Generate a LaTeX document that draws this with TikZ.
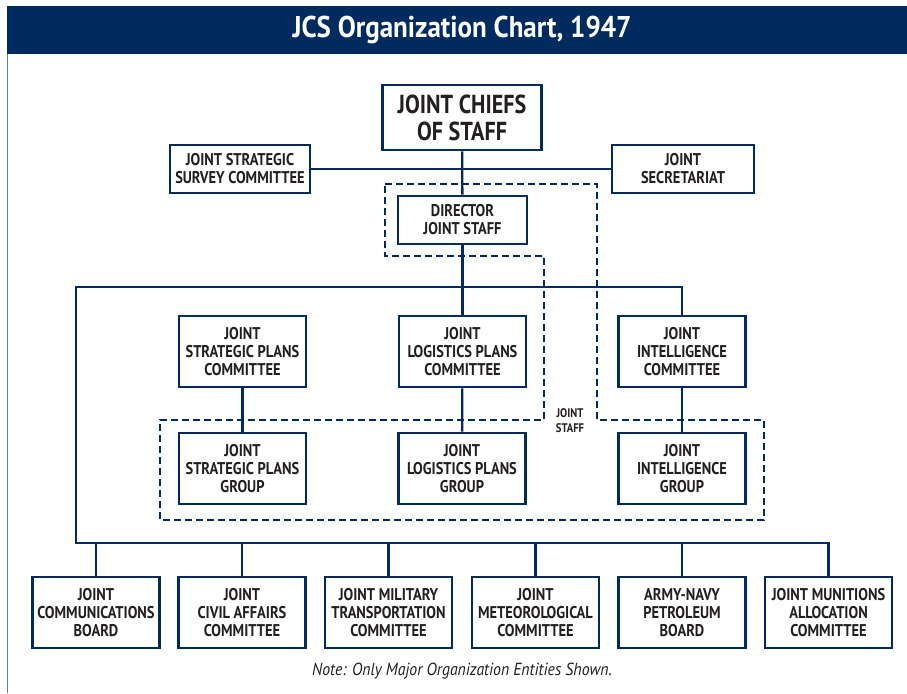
\documentclass[tikz,border=0pt]{standalone}
\usepackage{fontspec}
\newfontfamily\chartfont{PT Sans}[FakeStretch=0.85]
\newfontfamily\titlefont{PT Sans}[FakeStretch=0.9]
\usepackage{tikz}
\usetikzlibrary{calc}
\definecolor{navy}{HTML}{002B5F}
\definecolor{ink}{HTML}{231F20}

\tikzset{
  unit/.style={draw=navy, line width=2.6pt, fill=white, text=ink, align=center,
    minimum width=127pt, minimum height=71pt, inner sep=0pt,
    font=\chartfont\bfseries\fontsize{17}{18}\selectfont},
  link/.style={draw=navy, line width=2.3pt},
  staffline/.style={draw=navy, line width=2.3pt, dash pattern=on 7pt off 4pt}
}

\begin{document}
\begin{tikzpicture}[x=1pt,y=-1pt]
                 \useasboundingbox (0,0) rectangle (907,693);
                 % title bar and frame
                 \fill[navy] (7,6) rectangle (907,54);
                 \draw[navy!60, line width=1pt] (7.5,54) -- (7.5,693);
                 \node[text=white, font=\titlefont\bfseries\fontsize{30}{32}\selectfont] (title) at (462,30) {JCS Organization Chart, 1947};
                 % joint staff outline
                 \draw[staffline] (385,184) -- (597,184) -- (597,420) -- (764,420) -- (764,520) -- (160,520)
                   -- (160,420) -- (544,420) -- (544,256) -- (385,256) -- cycle;
                 \node[fill=white, text=ink, align=center, inner sep=1pt, font=\chartfont\bfseries\fontsize{12.5}{15}\selectfont] (stafflabel) at (570,421) {JOINT\\STAFF};
                 % top
                 \node[unit, minimum width=159pt, minimum height=65pt, font=\chartfont\bfseries\fontsize{26}{27}\selectfont] (jcs) at (462,117.5) {JOINT CHIEFS\\OF STAFF};
                 \node[unit, minimum width=140pt, minimum height=48pt] (jssc) at (240,169) {JOINT STRATEGIC\\SURVEY COMMITTEE};
                 \node[unit, minimum width=142pt, minimum height=48pt] (jsec) at (683,169) {JOINT\\SECRETARIAT};
                 \node[unit, minimum width=129pt, minimum height=48pt] (djs) at (462.5,220) {DIRECTOR\\JOINT STAFF};
                 % committees
                 \node[unit] (jspc) at (242.5,351.5) {JOINT\\STRATEGIC PLANS\\COMMITTEE};
                 \node[unit] (jlpc) at (462.5,351.5) {JOINT\\LOGISTICS PLANS\\COMMITTEE};
                 \node[unit] (jic) at (682,351.5) {JOINT\\INTELLIGENCE\\COMMITTEE};
                 % groups
                 \node[unit] (jspg) at (242.5,468.5) {JOINT\\STRATEGIC PLANS\\GROUP};
                 \node[unit] (jlpg) at (462,468.5) {JOINT\\LOGISTICS PLANS\\GROUP};
                 \node[unit] (jig) at (682,468.5) {JOINT\\INTELLIGENCE\\GROUP};
                 % boards
                 \node[unit] (jcb) at (96,612.5) {JOINT\\COMMUNICATIONS\\BOARD};
                 \node[unit] (jcac) at (242,612.5) {JOINT\\CIVIL AFFAIRS\\COMMITTEE};
                 \node[unit] (jmtc) at (388.5,612.5) {JOINT MILITARY\\TRANSPORTATION\\COMMITTEE};
                 \node[unit] (jmc) at (535.5,612.5) {JOINT\\METEOROLOGICAL\\COMMITTEE};
                 \node[unit] (anpb) at (682,612.5) {ARMY-NAVY\\PETROLEUM\\BOARD};
                 \node[unit] (jmac) at (828.5,612.5) {JOINT MUNITIONS\\ALLOCATION\\COMMITTEE};
                 % connectors
                 \coordinate (upperbus) at (76,287);
                 \coordinate (lowerbus) at (76,543);
                 \draw[link] (jcs) -- (djs);
                 \draw[link] (jssc) -- (jsec);
                 \draw[link] (djs) -- (jlpc);
                 \draw[link] (jic.north) |- (upperbus) -- (lowerbus) -| (jmac.north);
                 \draw[link] (jspc) -- (jspg);
                 \draw[link] (jlpc) -- (jlpg);
                 \draw[link] (jic) -- (jig);
                 \draw[link] (jcb.north) -- (jcb.north |- lowerbus);
                 \draw[link] (jcac.north) -- (jcac.north |- lowerbus);
                 \draw[link] (jmtc.north) -- (jmtc.north |- lowerbus);
                 \draw[link] (jmc.north) -- (jmc.north |- lowerbus);
                 \draw[link] (anpb.north) -- (anpb.north |- lowerbus);
                 \node[text=ink, font=\titlefont\itshape\fontsize{17.5}{19}\selectfont] (note) at (462,671) {Note: Only Major Organization Entities Shown.};
            \end{tikzpicture}
\end{document}
